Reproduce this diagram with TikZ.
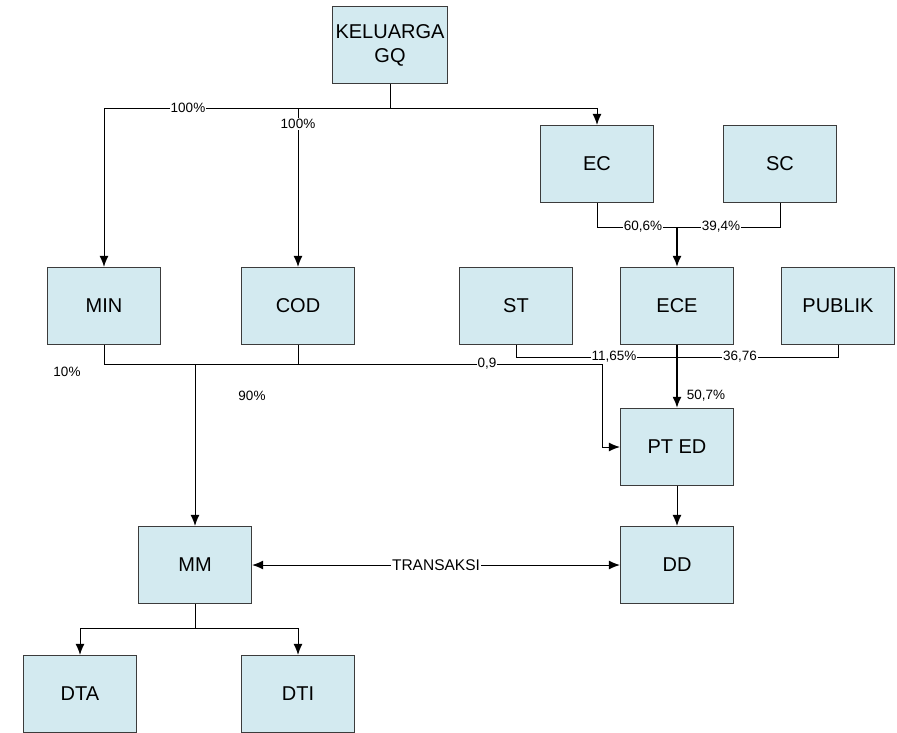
\documentclass[tikz,border=0pt]{standalone}
\usepackage{fontspec}
\setmainfont{Liberation Sans}
\usetikzlibrary{arrows.meta}
\definecolor{boxfill}{RGB}{211,234,240}
\definecolor{boxline}{RGB}{60,60,60}
\begin{document}
\begin{tikzpicture}
    [
        x=1pt, y=-1pt,
        >={Latex[length=11pt,width=9pt]},
        block/.style={rectangle, draw=boxline, line width=1.3pt, fill=boxfill,
            minimum width=113pt, minimum height=77pt, align=center,
            font=\fontsize{20}{24}\selectfont},
        link/.style={draw, line width=1pt},
        hv/.style={to path={-| (\tikztotarget)}},
        vh/.style={to path={|- (\tikztotarget)}},
        pct/.style={fill=white, inner sep=1pt, font=\fontsize{13.5}{15}\selectfont},
    ]
    \useasboundingbox (0,0) rectangle (897,732);

    % top
    \node (kel)    at (390,45)  [block] {KELUARGA\\GQ};
    \node (ec)     at (597,164) [block] {EC};
    \node (sc)     at (780,164) [block] {SC};

    % middle row
    \node (min)    at (104,306) [block] {MIN};
    \node (cod)    at (298,306) [block] {COD};
    \node (st)     at (516,306) [block] {ST};
    \node (ece)    at (677,306) [block] {ECE};
    \node (publik) at (838,306) [block] {PUBLIK};

    % bottom
    \node (pted)   at (677,447) [block] {PT ED};
    \node (dd)     at (677,565) [block] {DD};
    \node (mm)     at (195,565) [block] {MM};
    \node (dta)    at (80,694)  [block] {DTA};
    \node (dti)    at (298,694) [block] {DTI};

    % junctions
    \coordinate (j1) at (390,108);
    \coordinate (j2) at (298,108);
    \coordinate (j3) at (677,227);
    \coordinate (j4) at (602,364);
    \coordinate (j5) at (298,364);
    \coordinate (j6) at (195,364);
    \coordinate (j7) at (677,357);
    \coordinate (j8) at (195,628);

    \path[link]
    (kel.south)    edge       (j1)
    (ec.south)     edge [vh]  (j3)
    (sc.south)     edge [vh]  (j3)
    (min.south)    edge [vh]  (j4)
    (cod.south)    edge       (j5)
    (st.south)     edge [vh]  (j7)
    (publik.south) edge [vh]  (j7)
    (mm.south)     edge       (j8);

    \path[link]
    (j1)          edge [->,hv] (min.north)
    (j1)          edge [->,hv] (ec.north)
    (j2)          edge [->]    (cod.north)
    (j3)          edge [->,line width=1.6pt] (ece.north)
    (j4)          edge [->,vh] (pted.west)
    (j6)          edge [->]    (mm.north)
    (ece.south)   edge [->,line width=1.6pt] (pted.north)
    (pted.south)  edge [->]    (dd.north)
    (j8)          edge [->,hv] (dta.north)
    (j8)          edge [->,hv] (dti.north)
    (mm.east)     edge [<->]   node[pct, font=\fontsize{15.5}{18}\selectfont] {TRANSAKSI} (dd.west);

    % labels
    \node at (188,108) [pct] {100\%};
    \node at (298,124) [pct] {100\%};
    \node at (643,227) [pct] {60,6\%};
    \node at (721,227) [pct] {39,4\%};
    \node at (67,372)  [pct] {10\%};
    \node at (252,396) [pct] {90\%};
    \node at (487,364) [pct] {0,9};
    \node at (614,357) [pct] {11,65\%};
    \node at (740,357) [pct] {36,76};
    \node at (706,396) [pct] {50,7\%};

\end{tikzpicture}
\end{document}
